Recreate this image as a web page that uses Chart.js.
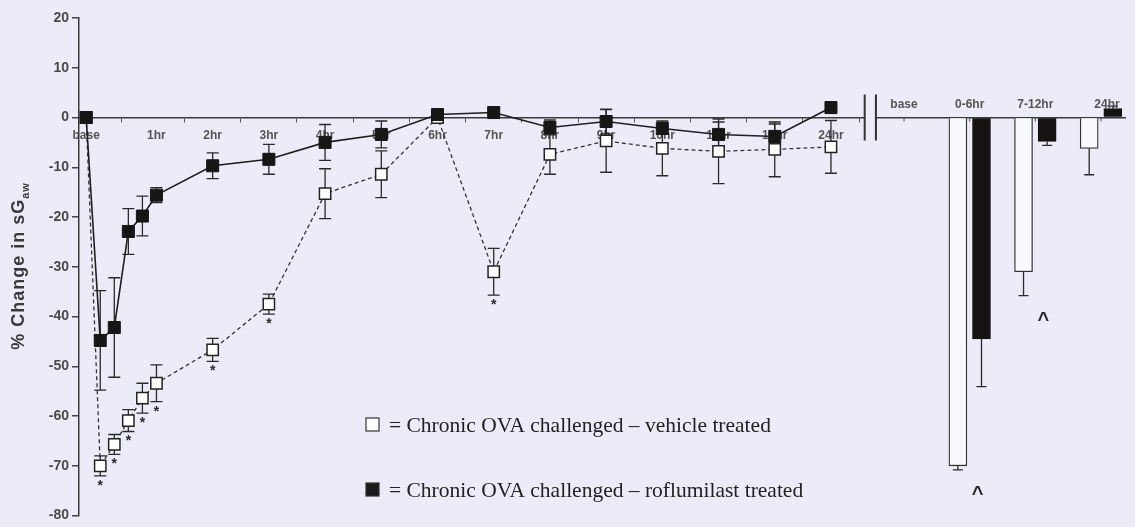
<!DOCTYPE html>
<html>
<head>
<meta charset="utf-8">
<title>sGaw time course</title>
<script src="https://cdn.jsdelivr.net/npm/chart.js@4.4.1/dist/chart.umd.min.js"></script>
<style>
  html, body { margin: 0; padding: 0; background: #ECECF8; }
  #wrap { width: 1135px; height: 527px; position: relative; }
</style>
</head>
<body>
<div id="wrap"><canvas id="sgawChart" width="1135" height="527"></canvas></div>
<script>
// ---- data ----
const seriesNames = ['Chronic OVA challenged \u2013 vehicle treated', 'Chronic OVA challenged \u2013 roflumilast treated'];

// sample times in hours after challenge ('base' = pre-challenge)
const sampleTimes = ['base', 0, 0.25, 0.5, 0.75, 1, 2, 3, 4, 5, 6, 7, 8, 9, 10, 11, 12, 24];
const tickTimes = ['base', 1, 2, 3, 4, 5, 6, 7, 8, 9, 10, 11, 12, 24];
const tickLabels = ['base', '1hr', '2hr', '3hr', '4hr', '5hr', '6hr', '7hr', '8hr', '9hr', '10hr', '11hr', '12hr', '24hr'];

const vehicleMean = [0, -70, -65.7, -60.9, -56.4, -53.4, -46.7, -37.5, -15.3, -11.4, 0, -31, -7.4, -4.7, -6.2, -6.8, -6.4, -5.9];
const vehicleSem = [0, 2, 2, 2.2, 3, 3.7, 2.3, 2, 5, 4.7, 0.8, 4.7, 4, 6.3, 5.5, 6.5, 5.5, 5.3];
const vehicleSig = [0, 1, 1, 1, 1, 1, 1, 1, 0, 0, 0, 1, 0, 0, 0, 0, 0, 0];

const roflumilastMean = [0, -44.8, -42.2, -22.9, -19.8, -15.6, -9.7, -8.4, -5.0, -3.4, 0.6, 1.0, -2, -0.8, -2.2, -3.4, -3.8, 2.0];
const roflumilastSem = [0, 10, 10, 4.6, 4, 1.5, 2.6, 3, 3.6, 2.7, 0.8, 0.8, 1.5, 2.5, 1.2, 2.5, 2.5, 0.8];

// peak change per period
const periodLabels = ['base', '0-6hr', '7-12hr', '24hr'];
const vehiclePeak = [null, -70, -31, -6.2];
const vehiclePeakSem = [null, 0.8, 4.8, 5.3];
const roflumilastPeak = [null, -44.5, -4.8, 1.8];
const roflumilastPeakSem = [null, 9.6, 0.8, 0.5];
const peakSig = [0, 1, 1, 0];

// ---- x placement ----
const BASE_POS = -0.25;     // baseline sits a quarter hour before challenge
const DAY_POS = 13;         // 24hr drawn right after 12hr (broken axis)
const BREAK_L = 13.6, BREAK_R = 13.8;
const BAR_START = 14.3, BAR_STEP = 1.168, BAR_OFFSET = 0.21;

function axisPos(t) {
    if (t === 'base') return BASE_POS;
    if (t === 24) return DAY_POS;
    return t;
}
function barPos(i, side) {
    return BAR_START + i * BAR_STEP + side * BAR_OFFSET;
}

const FONT = '"Liberation Sans", Arial, sans-serif';
const SERIF = '"Liberation Serif", "Times New Roman", serif';
const BG = '#ECECF8';
const INK = '#2a2a2a';

// error bars; bars get only the outward half
const errorBars = {
    id: 'errorBars',
    beforeDatasetsDraw(chart) {
        const { ctx, scales: { x, y } } = chart;
        ctx.save();
        ctx.strokeStyle = INK;
        ctx.lineWidth = 1.3;
        chart.data.datasets.forEach(ds => {
            if (!ds.sem) return;
            const isBar = ds.type === 'bar';
            const cap = isBar ? 5 : 6;
            ds.data.forEach((pt, j) => {
                const err = ds.sem[j];
                if (pt.y == null || !err) return;
                const px = x.getPixelForValue(pt.x);
                let y1, y2;
                if (isBar) {
                    y1 = y.getPixelForValue(pt.y);
                    y2 = y.getPixelForValue(pt.y < 0 ? pt.y - err : pt.y + err);
                } else {
                    y1 = y.getPixelForValue(pt.y + err);
                    y2 = y.getPixelForValue(pt.y - err);
                }
                ctx.beginPath();
                ctx.moveTo(px, y1); ctx.lineTo(px, y2);
                if (!isBar) { ctx.moveTo(px - cap, y1); ctx.lineTo(px + cap, y1); }
                ctx.moveTo(px - cap, y2); ctx.lineTo(px + cap, y2);
                ctx.stroke();
            });
        });
        ctx.restore();
    }
};

// axis break and the labels of the bar section (they sit above the axis)
const brokenAxis = {
    id: 'brokenAxis',
    beforeDatasetsDraw(chart) {
        const { ctx, scales: { x, y } } = chart;
        const y0 = y.getPixelForValue(0);
        const xl = x.getPixelForValue(BREAK_L);
        const xr = x.getPixelForValue(BREAK_R);
        ctx.save();
        ctx.fillStyle = BG;
        ctx.fillRect(xl + 1, y0 - 3, xr - xl - 2, 6);
        ctx.strokeStyle = '#333';
        ctx.lineWidth = 2;
        ctx.beginPath();
        ctx.moveTo(xl, y0 - 23); ctx.lineTo(xl, y0 + 23);
        ctx.moveTo(xr, y0 - 23); ctx.lineTo(xr, y0 + 23);
        ctx.stroke();

        ctx.lineWidth = 1;
        ctx.strokeStyle = '#555';
        ctx.fillStyle = '#555';
        ctx.font = 'bold 12px ' + FONT;
        ctx.textAlign = 'center';
        ctx.textBaseline = 'alphabetic';
        periodLabels.forEach((lab, i) => {
            const px = x.getPixelForValue(barPos(i, 0));
            ctx.beginPath();
            ctx.moveTo(px, y0); ctx.lineTo(px, y0 + 4);
            ctx.stroke();
            ctx.fillText(lab, px + (i === 3 ? 6 : 0), y0 - 10);
        });
        ctx.restore();
    }
};

// significance marks, legend and y title
const annotations = {
    id: 'annotations',
    afterDatasetsDraw(chart) {
        const { ctx, scales: { x, y } } = chart;
        ctx.save();
        ctx.fillStyle = INK;
        ctx.textAlign = 'center';
        ctx.textBaseline = 'top';
        ctx.font = 'bold 14px ' + FONT;
        vehicleSig.forEach((s, i) => {
            if (!s) return;
            const px = x.getPixelForValue(axisPos(sampleTimes[i]));
            const py = y.getPixelForValue(vehicleMean[i] - vehicleSem[i]);
            ctx.fillText('*', px, py + 3);
        });
        ctx.font = 'bold 20px ' + FONT;
        peakSig.forEach((s, i) => {
            if (!s) return;
            const px = x.getPixelForValue(barPos(i, 0)) + 8;
            const py = y.getPixelForValue(vehiclePeak[i] - vehiclePeakSem[i]);
            ctx.fillText('^', px, py + 15);
        });

        // legend
        const rows = [
            { y: 425, fill: '#fff', name: seriesNames[0] },
            { y: 490, fill: '#1a1a1a', name: seriesNames[1] }
        ];
        ctx.textAlign = 'left';
        ctx.textBaseline = 'middle';
        ctx.font = '21.5px ' + SERIF;
        rows.forEach(r => {
            ctx.fillStyle = r.fill;
            ctx.fillRect(366, r.y - 7, 13, 13);
            ctx.strokeStyle = '#333';
            ctx.lineWidth = 1.2;
            ctx.strokeRect(366, r.y - 7, 13, 13);
            ctx.fillStyle = '#222';
            ctx.fillText('= ' + r.name, 389, r.y + 1);
        });

        // y title with subscript
        const main = '% Change in sG', sub = 'aw';
        ctx.translate(19, 266);
        ctx.rotate(-Math.PI / 2);
        ctx.fillStyle = '#3a3a3a';
        ctx.letterSpacing = '1px';
        ctx.font = 'bold 18px ' + FONT;
        const wMain = ctx.measureText(main).width;
        ctx.font = 'bold 11px ' + FONT;
        const wSub = ctx.measureText(sub).width;
        const start = -(wMain + wSub) / 2;
        ctx.font = 'bold 18px ' + FONT;
        ctx.fillText(main, start, 0);
        ctx.font = 'bold 11px ' + FONT;
        ctx.fillText(sub, start + wMain, 7);
        ctx.restore();
    }
};

const ctx = document.getElementById('sgawChart');
new Chart(ctx, {
    type: 'line',
    data: {
        datasets: [
            {
                label: seriesNames[1],
                data: roflumilastMean.map((v, i) => ({ x: axisPos(sampleTimes[i]), y: v })),
                sem: roflumilastSem,
                borderColor: '#1e1e1e',
                borderWidth: 1.6,
                pointStyle: 'rect',
                pointRadius: 8.5,
                pointBackgroundColor: '#161616',
                pointBorderColor: '#161616',
                pointBorderWidth: 1,
                order: 1
            },
            {
                label: seriesNames[0],
                data: vehicleMean.map((v, i) => ({ x: axisPos(sampleTimes[i]), y: v })),
                sem: vehicleSem,
                borderColor: '#333',
                borderWidth: 1.3,
                borderDash: [4, 3],
                pointStyle: 'rect',
                pointRadius: 8,
                pointBackgroundColor: '#fff',
                pointBorderColor: '#222',
                pointBorderWidth: 1.5,
                order: 2
            },
            {
                type: 'bar',
                label: seriesNames[0],
                data: vehiclePeak.map((v, i) => ({ x: barPos(i, -1), y: v })),
                sem: vehiclePeakSem,
                backgroundColor: '#F8F8FF',
                borderColor: '#333',
                borderWidth: 1.3,
                barThickness: 18,
                grouped: false,
                order: 3
            },
            {
                type: 'bar',
                label: seriesNames[1],
                data: roflumilastPeak.map((v, i) => ({ x: barPos(i, 1), y: v })),
                sem: roflumilastPeakSem,
                backgroundColor: '#161212',
                borderColor: '#161212',
                borderWidth: 1,
                barThickness: 18,
                grouped: false,
                order: 4
            }
        ]
    },
    options: {
        responsive: false,
        animation: false,
        layout: { padding: { top: 18, bottom: 8, left: 0, right: 2 } },
        plugins: {
            legend: { display: false },
            tooltip: { enabled: false }
        },
        scales: {
            x: {
                type: 'linear',
                position: { y: 0 },
                min: -0.378,
                max: 18.24,
                offset: false,
                afterBuildTicks: scale => {
                    scale.ticks = tickTimes.map(t => ({ value: axisPos(t) }));
                },
                ticks: {
                    autoSkip: false,
                    maxRotation: 0,
                    padding: 7,
                    color: '#555',
                    font: { family: FONT, size: 12, weight: 'bold' },
                    callback: (val, idx) => tickLabels[idx]
                },
                grid: { drawOnChartArea: false, tickLength: 4, color: '#555' },
                border: { color: '#3a3a3a', width: 1.5 }
            },
            y: {
                min: -80,
                max: 20,
                afterFit: scale => { scale.width = 79; },
                ticks: {
                    stepSize: 10,
                    padding: 3,
                    color: '#4a4a4a',
                    font: { family: FONT, size: 14, weight: 'bold' }
                },
                grid: { drawOnChartArea: false, tickLength: 7, color: '#444', lineWidth: 1.5 },
                border: { color: '#3a3a3a', width: 1.5 }
            }
        }
    },
    plugins: [errorBars, brokenAxis, annotations]
});
</script>
</body>
</html>
